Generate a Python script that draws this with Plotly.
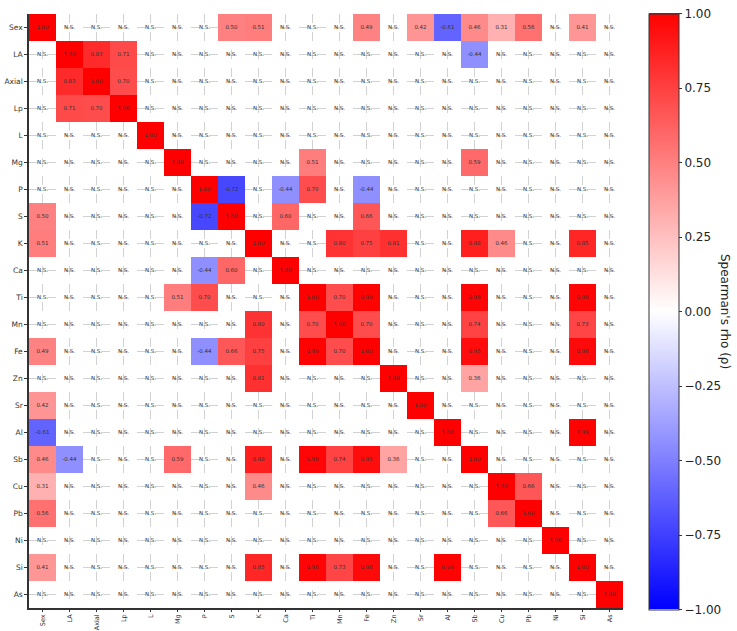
import numpy as np
import plotly.graph_objects as go

labels = ["Sex", "LA", "Axial", "Lp", "L", "Mg", "P", "S", "K", "Ca", "Ti",
          "Mn", "Fe", "Zn", "Sr", "Al", "Sb", "Cu", "Pb", "Ni", "Si", "As"]

# significant Spearman correlations (others are N.S.)
pair_a = ["Sex", "Sex", "Sex", "Sex", "Sex", "Sex", "Sex", "Sex", "Sex",
          "LA", "LA", "LA", "Axial", "Mg", "Mg",
          "P", "P", "P", "P", "S", "S",
          "K", "K", "K", "K", "K", "K",
          "Ti", "Ti", "Ti", "Ti", "Mn", "Mn", "Mn", "Fe", "Fe",
          "Zn", "Al", "Cu"]
pair_b = ["S", "K", "Fe", "Sr", "Al", "Sb", "Cu", "Pb", "Si",
          "Axial", "Lp", "Sb", "Lp", "Ti", "Sb",
          "S", "Ca", "Ti", "Fe", "Ca", "Fe",
          "Mn", "Fe", "Zn", "Sb", "Cu", "Si",
          "Mn", "Fe", "Sb", "Si", "Fe", "Sb", "Si", "Sb", "Si",
          "Sb", "Si", "Pb"]
rho = [0.50, 0.51, 0.49, 0.42, -0.61, 0.46, 0.31, 0.56, 0.41,
       0.83, 0.71, -0.44, 0.70, 0.51, 0.59,
       -0.72, -0.44, 0.70, -0.44, 0.60, 0.66,
       0.80, 0.75, 0.81, 0.88, 0.46, 0.85,
       0.70, 0.99, 0.98, 0.98, 0.70, 0.74, 0.73, 0.95, 0.96,
       0.36, 0.99, 0.66]

n = len(labels)
idx = {l: i for i, l in enumerate(labels)}
z = [[None] * n for _ in range(n)]
for i in range(n):
    z[i][i] = 1.0
for a, b, r in zip(pair_a, pair_b, rho):
    z[idx[a]][idx[b]] = r
    z[idx[b]][idx[a]] = r

tx, ty, tt = [], [], []
for i in range(n):
    for j in range(n):
        tx.append(labels[j])
        ty.append(labels[i])
        tt.append("N.S." if z[i][j] is None else f"{z[i][j]:.2f}")

PL, PR, PT, PB = 29, 623, 14, 608   # plot area in pixels
W, H = 737, 631
PW = PR - PL
PH = PB - PT

fig = go.Figure()
fig.add_trace(go.Heatmap(
    z=z, x=labels, y=labels,
    colorscale=[[0, "rgb(0,0,255)"], [0.5, "rgb(255,255,255)"], [1, "rgb(255,0,0)"]],
    zmin=-1, zmax=1, xgap=0, ygap=0, hoverongaps=False,
    colorbar=dict(
        x=(649 - PL) / PW, xanchor="left", xref="paper", xpad=0, ypad=0,
        y=(PB - 311.5) / PH, yanchor="middle",
        lenmode="pixels", len=596, thicknessmode="pixels", thickness=30,
        outlinewidth=1, outlinecolor="#333",
        tickvals=[-1, -0.75, -0.5, -0.25, 0, 0.25, 0.5, 0.75, 1],
        tickformat=".2f", ticks="outside", ticklen=3, tickcolor="#333",
        ticklabeloverflow="allow",
        tickfont=dict(family="DejaVu Sans", size=12, color="#222"),
    ),
))
fig.add_trace(go.Scatter(
    x=tx, y=ty, text=tt, mode="text",
    textfont=dict(family="DejaVu Sans", size=5.5, color="#333"),
    hoverinfo="skip", showlegend=False,
))

axis_common = dict(
    showgrid=True, gridcolor="#d2d2d2", gridwidth=0.8, griddash="dash",
    showline=True, linecolor="#333", linewidth=1.5,
    ticks="outside", tickcolor="#333",
    zeroline=False, automargin=False,
)
fig.update_xaxes(tickangle=-90, range=[-0.5, n - 0.5], ticklen=2,
                 tickfont=dict(family="DejaVu Sans", size=6.5, color="#333"), **axis_common)
fig.update_yaxes(range=[n - 0.5, -0.5], ticklen=3,
                 tickfont=dict(family="DejaVu Sans", size=7.5, color="#333"), **axis_common)

fig.add_annotation(
    text="Spearman's rho (ρ)", textangle=90,
    x=(725 - PL) / PW, y=(PB - 311) / PH, xref="paper", yref="paper",
    xanchor="center", yanchor="middle",
    showarrow=False, font=dict(family="DejaVu Sans", size=12, color="#222"),
)

fig.update_layout(
    width=W, height=H,
    margin=dict(l=PL, r=W - PR, t=PT, b=H - PB),
    paper_bgcolor="white", plot_bgcolor="white",
    showlegend=False,
)
fig.write_html("out.html", config={"displayModeBar": False},
               post_script="document.body.style.margin='0';document.body.style.overflow='hidden';")
